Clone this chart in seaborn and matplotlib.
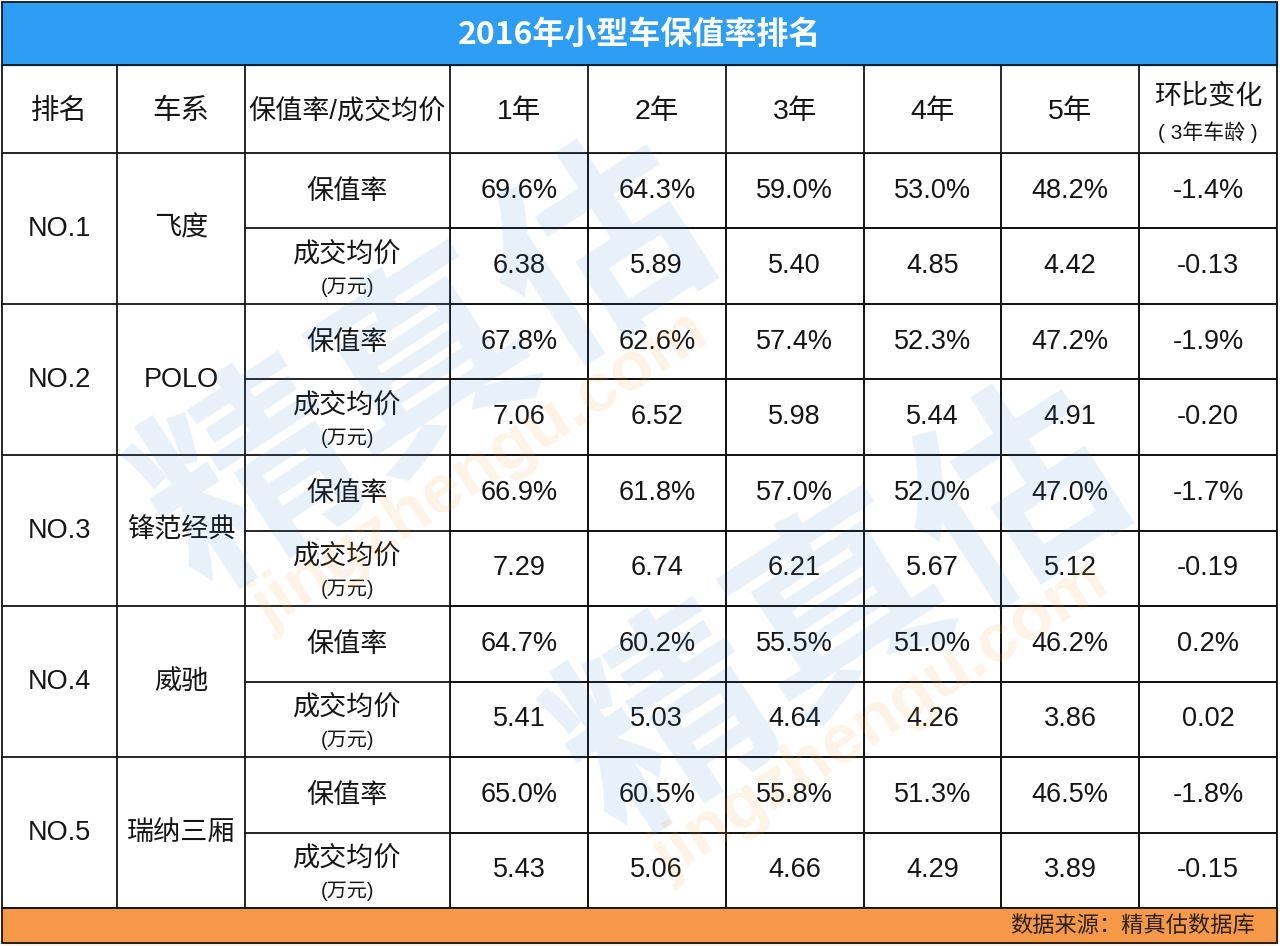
import numpy as np
import pandas as pd
import matplotlib
matplotlib.use("Agg")
import matplotlib.pyplot as plt
from matplotlib.colors import ListedColormap
from matplotlib.patches import Rectangle
import seaborn as sns

TITLE = "2016年小型车保值率排名"
SOURCE = "数据来源：精真估数据库"
HEADERS = ["排名", "车系", "保值率/成交均价", "1年", "2年", "3年", "4年", "5年"]
ranks = ["NO.1", "NO.2", "NO.3", "NO.4", "NO.5"]
cars = ["飞度", "POLO", "锋范经典", "威驰", "瑞纳三厢"]
years = ["1年", "2年", "3年", "4年", "5年"]
retention = [
    [69.6, 64.3, 59.0, 53.0, 48.2],
    [67.8, 62.6, 57.4, 52.3, 47.2],
    [66.9, 61.8, 57.0, 52.0, 47.0],
    [64.7, 60.2, 55.5, 51.0, 46.2],
    [65.0, 60.5, 55.8, 51.3, 46.5],
]
price = [
    [6.38, 5.89, 5.40, 4.85, 4.42],
    [7.06, 6.52, 5.98, 5.44, 4.91],
    [7.29, 6.74, 6.21, 5.67, 5.12],
    [5.41, 5.03, 4.64, 4.26, 3.86],
    [5.43, 5.06, 4.66, 4.29, 3.89],
]
retention_change = [-1.4, -1.9, -1.7, 0.2, -1.8]
price_change = [-0.13, -0.20, -0.19, 0.02, -0.15]

W, H = 1280, 946
BLUE = "#2E9EF4"
ORANGE = "#F59848"
INK = "#151515"
CJK = ["Liberation Sans", "Noto Sans CJK SC", "DejaVu Sans"]


def main():
    sns.set_theme(style="white")
    plt.rcParams["font.family"] = CJK

    # table body: two rows per car (rate, price) and one column per year + change
    rows, annot = [], []
    for i in range(len(cars)):
        rows.append(retention[i] + [retention_change[i]])
        annot.append([f"{v:.1f}%" for v in retention[i]] + [f"{retention_change[i]:.1f}%"])
        rows.append(price[i] + [price_change[i]])
        annot.append([f"{v:.2f}" for v in price[i]] + [f"{price_change[i]:.2f}"])
    df = pd.DataFrame(rows, columns=years + ["环比变化"])

    fig = plt.figure(figsize=(W / 100, H / 100), dpi=100)
    fig.patch.set_facecolor("white")

    bg = fig.add_axes([0, 0, 1, 1])
    bg.set_xlim(0, W)
    bg.set_ylim(H, 0)
    bg.axis("off")

    x0, x1 = 450, 1277
    y_head, y_body, y_foot = 65, 153, 908
    hm = fig.add_axes([x0 / W, (H - y_foot) / H, (x1 - x0) / W, (y_foot - y_body) / H])
    sns.heatmap(df, annot=np.array(annot), fmt="", cmap=ListedColormap(["white"]),
                cbar=False, linewidths=1.1, linecolor=INK,
                xticklabels=False, yticklabels=False, ax=hm,
                annot_kws={"fontsize": 19.5, "color": INK})
    hm.set_xlabel("")
    hm.set_ylabel("")

    # title and footer bars
    bg.add_patch(Rectangle((2, 2), W - 5, y_head - 2, color=BLUE))
    bg.text(W / 2, 35, TITLE, ha="center", va="center", color="white",
            fontsize=23, fontweight="bold", family=["Noto Sans CJK SC"])
    bg.add_patch(Rectangle((2, y_foot), W - 5, 943 - y_foot, color=ORANGE))
    bg.text(1255, 926, SOURCE, ha="right", va="center", color="#2a2118",
            fontsize=16, family=["Noto Sans CJK SC"])

    lw = 1.3
    col_w = (x1 - x0) / 6
    vx = [117, 245, x0] + [x0 + col_w * k for k in range(1, 6)]
    # grid lines
    for y in (y_head, y_body, y_foot):
        bg.plot([2, x1], [y, y], color=INK, lw=lw)
    for x in vx[:3]:
        bg.plot([x, x], [y_head, y_foot], color=INK, lw=lw)
    for x in vx[3:]:
        bg.plot([x, x], [y_head, y_body], color=INK, lw=lw)
    grp = (y_foot - y_body) / len(cars)
    for g in range(len(cars)):
        top = y_body + grp * g
        bg.plot([2, x0], [top + grp, top + grp], color=INK, lw=lw)
        bg.plot([245, x0], [top + grp / 2, top + grp / 2], color=INK, lw=lw)
    bg.add_patch(Rectangle((2, 2), x1 - 2, 941, fill=False, ec=INK, lw=lw, zorder=5))

    # header
    hy = (y_head + y_body) / 2 + 3
    centers = [59, 181, 347] + [x0 + col_w * (k + 0.5) for k in range(5)]
    for cx, label in zip(centers, HEADERS):
        bg.text(cx, hy, label, ha="center", va="center",
                fontsize=20.5 if len(label) < 4 else 19.5, color=INK)
    cx = x0 + col_w * 5.5
    bg.text(cx, hy - 15, "环比变化", ha="center", va="center", fontsize=19.5, color=INK)
    bg.text(cx, hy + 20, "( 3年车龄 )", ha="center", va="center", fontsize=15, color=INK)

    # left columns
    for g in range(len(cars)):
        top = y_body + grp * g
        bg.text(59, top + grp / 2, ranks[g], ha="center", va="center", fontsize=19.5, color=INK)
        bg.text(181, top + grp / 2, cars[g], ha="center", va="center", fontsize=19.5, color=INK)
        bg.text(347, top + grp / 4 + 1, "保值率", ha="center", va="center", fontsize=19.5, color=INK)
        bg.text(347, top + grp * 0.68, "成交均价", ha="center", va="center", fontsize=19.5, color=INK)
        bg.text(347, top + grp * 0.89, "(万元)", ha="center", va="center", fontsize=14.5, color=INK)

    # watermark overlay
    wm = fig.add_axes([0, 0, 1, 1], zorder=10)
    wm.set_xlim(0, W)
    wm.set_ylim(H, 0)
    wm.axis("off")
    wm.patch.set_alpha(0)
    for cx, cy in [(430, 370), (845, 615)]:
        wm.text(cx, cy, "精真估", rotation=33, ha="center", va="center", fontsize=150,
                fontweight="bold", color="#2c7fd6", alpha=0.11, family=["Noto Sans CJK SC"],
                rotation_mode="anchor")
    for cx, cy in [(480, 470), (880, 720)]:
        wm.text(cx, cy, "jingzhengu.com", rotation=33, ha="center", va="center", fontsize=50,
                fontweight="bold", color="#f5a040", alpha=0.13, rotation_mode="anchor")

    fig.savefig("out.png", dpi=100)


if __name__ == '__main__':
    main()
